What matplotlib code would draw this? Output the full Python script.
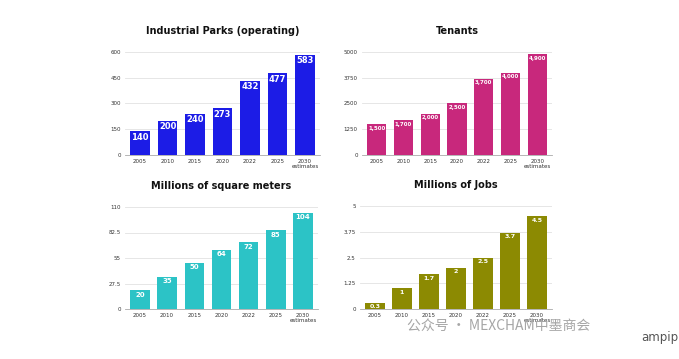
import matplotlib.pyplot as plt

plt.rcParams['font.family'] = ['DejaVu Sans']

years = ["2005", "2010", "2015", "2020", "2022", "2025", "2030\nestimates"]

parks = [140, 200, 240, 273, 432, 477, 583]
parks_labels = ["140", "200", "240", "273", "432", "477", "583"]
parks_ticks = [0, 150, 300, 450, 600]

tenants = [1500, 1700, 2000, 2500, 3700, 4000, 4900]
tenants_labels = ["1,500", "1,700", "2,000", "2,500", "3,700", "4,000", "4,900"]
tenants_ticks = [0, 1250, 2500, 3750, 5000]

sqm = [20, 35, 50, 64, 72, 85, 104]
sqm_labels = ["20", "35", "50", "64", "72", "85", "104"]
sqm_ticks = [0, 27.5, 55, 82.5, 110]

jobs = [0.3, 1, 1.7, 2, 2.5, 3.7, 4.5]
jobs_labels = ["0.3", "1", "1.7", "2", "2.5", "3.7", "4.5"]
jobs_ticks = [0, 1.25, 2.5, 3.75, 5]

W, H = 679, 359
fig = plt.figure(figsize=(W / 100, H / 100), dpi=100)


def panel(rect, title, vals, labels, ticks, tick_text, color, lsize):
    l, t, r, b = rect
    ax = fig.add_axes([l / W, 1 - b / H, (r - l) / W, (b - t) / H])
    x = range(len(vals))
    ax.bar(x, vals, width=0.72, color=color, zorder=3)
    ax.set_xlim(-0.55, len(vals) - 0.45)
    ax.set_ylim(0, ticks[-1])
    ax.set_yticks(ticks)
    ax.set_yticklabels(tick_text, fontsize=4, color="#333333")
    ax.set_xticks(list(x))
    ax.set_xticklabels(years, fontsize=4, color="#333333", linespacing=0.9)
    ax.tick_params(length=0, pad=3)
    for s in ["top", "right", "left"]:
        ax.spines[s].set_visible(False)
    ax.spines["bottom"].set_color("#aaaaaa")
    ax.spines["bottom"].set_linewidth(0.6)
    ax.grid(axis="y", color="#e2e2e2", linewidth=0.6, zorder=0)
    off = ticks[-1] * 0.015
    for i, (v, lab) in enumerate(zip(vals, labels)):
        ax.text(i, v - off, lab, ha="center", va="top", color="white",
                fontsize=lsize, fontweight="bold", zorder=4)
    ax.text(0.5, 1 + 21 / (b - t), title, transform=ax.transAxes, ha="center",
            va="center", fontsize=7, fontweight="bold", color="#111111")
    return ax


panel((125, 52, 320, 155), "Industrial Parks (operating)", parks, parks_labels,
      parks_ticks, ["0", "150", "300", "450", "600"], "#1c1ce6", 6)
panel((362, 52, 552, 155), "Tenants", tenants, tenants_labels,
      tenants_ticks, ["0", "1250", "2500", "3750", "5000"], "#c8287c", 4)
panel((125, 207, 318, 309), "Millions of square meters", sqm, sqm_labels,
      sqm_ticks, ["0", "27.5", "55", "82.5", "110"], "#2cc3c6", 5)
panel((360, 206, 552, 309), "Millions of Jobs", jobs, jobs_labels,
      jobs_ticks, ["0", "1.25", "2.5", "3.75", "5"], "#8c8a02", 4.5)

# watermark
fig.text(407 / W, 1 - 326 / H, "公众号 · MEXCHAM中墨商会", fontsize=10,
         color="#a6a6a6", va="center", ha="left",
         family=["Noto Sans CJK SC", "DejaVu Sans"])
fig.text(641 / W, 1 - 337 / H, "ampip", fontsize=8.5, color="#555555",
         va="center", ha="left")

fig.savefig("out.png", dpi=100)
